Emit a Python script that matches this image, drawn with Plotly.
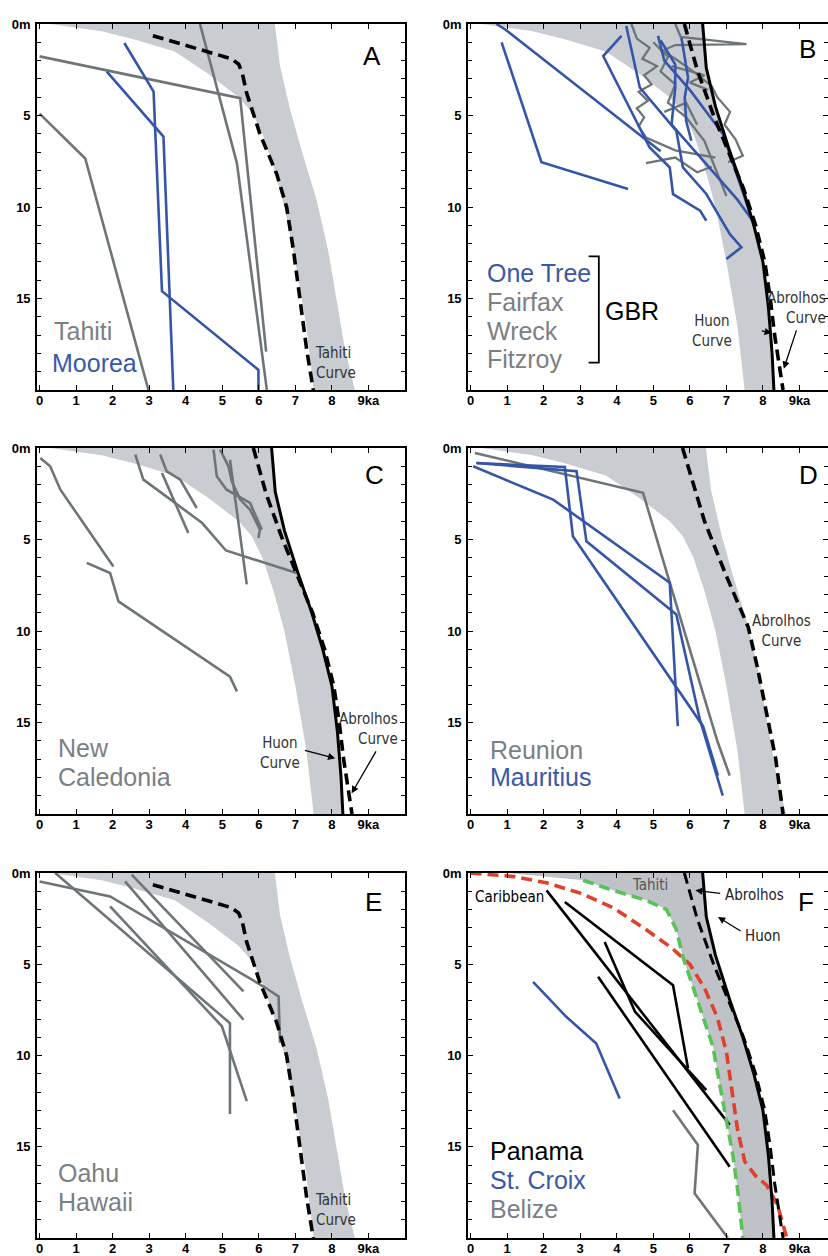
import plotly.graph_objects as go

# ---------------- shared reference curves (x = age ka, y = depth m) ----------------
BAND_LEFT_X = [0.3, 1.7, 2.6, 3.7, 4.6, 5.45, 5.8, 6.1, 6.4, 6.7, 7.0, 7.3, 7.5]
BAND_LEFT_Y = [0.0, 0.4, 0.85, 1.5, 2.7, 4.0, 4.8, 6.0, 7.8, 10.0, 13.0, 16.5, 20.0]
BAND_RIGHT_WIDE_X = [6.44, 6.58, 6.86, 7.17, 7.58, 7.9, 8.13, 8.36, 8.63]
BAND_RIGHT_WIDE_Y = [0.0, 2.3, 4.7, 6.9, 9.6, 12.4, 15.1, 17.8, 20.0]

TAHITI_CURVE_X = [3.1, 4.4, 5.25, 5.45, 5.55, 5.67, 6.03, 6.49, 6.76, 6.95, 7.13, 7.31, 7.49]
TAHITI_CURVE_Y = [0.64, 1.4, 1.9, 2.2, 2.7, 3.8, 6.0, 8.2, 10.0, 12.4, 15.1, 17.8, 20.0]

HUON_X = [6.35, 6.45, 6.7, 7.1, 7.45, 7.75, 8.0, 8.15, 8.25, 8.3]
HUON_Y = [0.0, 2.4, 4.5, 7.0, 9.0, 11.0, 13.0, 15.5, 18.0, 20.0]

ABROLHOS_X = [5.85, 6.2, 6.65, 7.05, 7.47, 7.8, 8.05, 8.2, 8.32, 8.55]
ABROLHOS_Y = [0.0, 2.5, 5.0, 7.0, 9.0, 11.0, 13.0, 15.0, 17.0, 20.0]

ABROLHOS_D_X = [5.8, 6.4, 7.0, 7.6, 7.85, 8.1, 8.35, 8.55]
ABROLHOS_D_Y = [0.0, 4.0, 7.0, 9.8, 12.0, 14.5, 17.0, 20.0]

CARIBBEAN_X = [0.0, 1.2, 2.1, 3.0, 3.9, 4.8, 5.5, 6.0, 6.4, 6.75, 7.0, 7.15, 7.3, 7.5, 7.8, 8.1, 8.4, 8.65]
CARIBBEAN_Y = [0.0, 0.2, 0.55, 1.1, 1.9, 3.1, 4.1, 5.0, 6.3, 7.9, 9.8, 12.0, 14.0, 15.8, 16.6, 17.1, 18.2, 20.0]

TAHITI_GREEN_X = [3.08, 3.9, 4.81, 5.36, 5.63, 5.81, 6.08, 6.36, 6.63, 6.81, 7.0, 7.18, 7.31, 7.45]
TAHITI_GREEN_Y = [0.4, 0.95, 1.5, 2.0, 3.1, 4.6, 6.2, 7.9, 9.5, 11.5, 13.5, 15.5, 17.4, 20.0]

# ---------------- site data per panel ----------------
A_TAHITI = [
    ([0.0, 1.25, 2.98], [4.9, 7.35, 20.0]),
    ([0.0, 5.49, 6.2], [1.77, 4.05, 17.9]),
    ([4.39, 5.4, 6.22], [0.0, 7.6, 20.0]),
]
A_MOOREA = [
    ([2.32, 3.12, 3.35, 5.99, 5.99], [1.04, 3.69, 14.6, 18.9, 20.0]),
    ([1.84, 3.39, 3.66], [2.6, 6.15, 20.0]),
]

B_ONETREE = [
    ([0.71, 0.95, 5.2], [0.0, 0.3, 6.95]),
    ([0.85, 1.94, 4.31], [1.0, 7.55, 9.02]),
    ([4.13, 3.63, 4.9, 5.45, 5.54, 6.28, 6.45], [0.65, 1.75, 6.75, 7.84, 9.3, 10.2, 10.75]),
    ([4.26, 4.63, 5.63, 5.81, 6.45, 7.09, 7.41, 7.0], [0.11, 3.47, 5.84, 7.84, 9.29, 11.47, 12.2, 12.84]),
    ([5.13, 5.3, 6.0, 6.9, 7.72], [0.65, 2.0, 3.6, 6.0, 10.75]),
    ([5.2, 5.6, 5.6, 5.5, 6.6, 7.3, 7.72], [0.9, 2.2, 3.5, 5.5, 8.0, 9.6, 10.75]),
    ([5.77, 5.95, 5.86, 5.9, 6.04], [0.75, 2.93, 4.02, 5.3, 6.38]),
]
B_GREY = [
    ([5.6, 5.75, 7.55, 5.6, 5.2], [0.0, 0.7, 1.1, 1.15, 1.5]),
    ([4.4, 4.55, 4.9, 4.7, 5.1, 4.75, 4.95, 4.6, 4.85, 4.55, 4.75, 4.6, 4.8, 5.6, 6.7],
     [0.0, 0.8, 1.3, 1.9, 2.3, 2.8, 3.3, 3.7, 4.2, 4.6, 5.1, 5.6, 6.2, 6.9, 7.3]),
    ([5.2, 5.6, 6.1, 6.6, 6.75, 7.1, 6.95, 7.25, 7.45, 7.05],
     [1.4, 1.9, 2.6, 3.4, 4.0, 4.8, 5.5, 6.3, 7.2, 7.55]),
    ([5.0, 5.4, 5.2, 5.6, 5.4, 5.9, 6.4, 7.0], [1.0, 1.8, 2.6, 3.3, 4.3, 5.1, 6.4, 9.4]),
    ([5.5, 6.4, 6.0, 6.5], [2.3, 2.8, 3.2, 3.6]),
    ([5.3, 5.9, 6.2], [4.8, 4.3, 5.5]),
    ([4.8, 5.6, 6.2, 6.6], [7.6, 7.3, 8.1, 7.8]),
]

C_NEWCAL = [
    ([0.02, 0.29, 0.57, 2.02], [0.55, 1.0, 2.28, 6.47]),
    ([1.29, 1.93, 2.16, 5.21, 5.4], [6.28, 6.83, 8.38, 12.5, 13.3]),
    ([2.62, 2.84, 3.3, 4.45, 5.1, 7.04], [0.36, 1.73, 2.4, 4.1, 5.6, 6.83]),
    ([3.3, 3.48, 3.85, 4.3], [0.36, 1.28, 1.73, 3.28]),
    ([3.35, 4.07], [1.37, 4.64]),
    ([4.76, 4.85, 5.12, 5.76, 6.08], [0.09, 1.55, 2.28, 3.0, 4.46]),
    ([4.94, 5.17, 5.26, 5.49, 5.76, 6.03, 5.99], [0.09, 1.0, 1.82, 2.82, 3.37, 4.46, 4.92]),
    ([5.21, 5.67], [0.64, 7.45]),
]

D_REUNION = [
    ([0.12, 4.72, 5.45, 6.75, 7.09], [0.27, 2.45, 7.36, 16.0, 17.9]),
]
D_MAURITIUS = [
    ([0.16, 2.58, 2.8, 5.54, 6.36, 6.77], [0.82, 1.04, 4.82, 12.8, 15.2, 17.9]),
    ([0.16, 2.9, 3.17, 5.63, 6.27, 6.9], [0.82, 1.27, 5.1, 9.1, 14.8, 19.0]),
    ([0.07, 2.26, 5.45, 5.67], [1.0, 2.82, 7.36, 15.2]),
]

E_OAHU = [
    ([0.0, 1.93, 6.13, 6.54, 6.58], [0.46, 1.28, 6.22, 6.76, 9.3]),
    ([0.43, 5.12, 5.21, 5.21], [0.0, 8.04, 8.23, 13.2]),
    ([1.93, 4.99, 5.67], [1.83, 8.4, 12.5]),
    ([2.34, 5.58], [0.46, 8.04]),
    ([2.52, 5.58], [0.09, 6.49]),
]

F_PANAMA = [
    ([2.08, 7.09], [0.95, 13.8]),
    ([2.58, 5.54, 5.95], [1.59, 6.15, 10.7]),
    ([3.67, 4.5, 6.45], [3.78, 7.6, 11.9]),
    ([3.49, 7.09], [5.69, 16.1]),
]
F_STCROIX = [
    ([1.71, 2.62, 3.44, 4.08], [5.97, 7.88, 9.34, 12.35]),
]
F_BELIZE = [
    ([5.54, 6.22, 6.13, 7.04], [13.0, 14.9, 17.55, 20.0]),
]

X_TICKS = [0, 1, 2, 3, 4, 5, 6, 7, 8, 9]
X_TICKTEXT = ["0", "1", "2", "3", "4", "5", "6", "7", "8", "9ka"]
Y_TICKS = [0, 5, 10, 15]
Y_TICKTEXT = ["0m", "5", "10", "15"]

# ---------------- styling ----------------
W, H = 828, 1256
BLUE = "#3556a8"
GREY = "#6e7579"
BAND = "#c9cdd1"
LABEL_GREY = "#7b8084"
LABEL_BLUE = "#3a58a8"
BIG = "Liberation Sans, Arial, sans-serif"
NARROW = "Liberation Sans Narrow, Arial Narrow, DejaVu Sans Condensed, Liberation Sans, sans-serif"

# panel pixel boxes: (left, right, top, bottom), x range end
PANELS = {
    "A": (37, 405, 24, 390, 10.0),
    "B": (468, 828, 24, 390, 9.78),
    "C": (37, 405, 448, 814, 10.0),
    "D": (468, 828, 448, 814, 9.78),
    "E": (37, 405, 873, 1238, 10.0),
    "F": (468, 828, 873, 1238, 9.78),
}
ORDER = ["A", "B", "C", "D", "E", "F"]

fig = go.Figure()
layout = dict(width=W, height=H, margin=dict(l=0, r=0, t=0, b=0, pad=0),
              paper_bgcolor="white", plot_bgcolor="white", showlegend=False)

for i, key in enumerate(ORDER, start=1):
    l, r, t, b, xmax = PANELS[key]
    sfx = "" if i == 1 else str(i)
    layout["xaxis" + sfx] = dict(
        domain=[l / W, r / W], range=[-0.07, xmax], anchor="y" + sfx,
        tickmode="array", tickvals=X_TICKS, ticktext=X_TICKTEXT,
        showline=True, linecolor="black", linewidth=1.6, mirror="allticks",
        ticks="inside", ticklen=5, tickwidth=1.2, tickcolor="black",
        showgrid=False, zeroline=False, fixedrange=True, ticklabelstandoff=-2,
        automargin=False,
        tickfont=dict(family=BIG, size=13, color="black", weight="bold"),
    )
    layout["yaxis" + sfx] = dict(
        domain=[1 - b / H, 1 - t / H], range=[20, 0], anchor="x" + sfx,
        tickmode="array", tickvals=Y_TICKS, ticktext=Y_TICKTEXT,
        showline=True, linecolor="black", linewidth=1.6, mirror="allticks",
        ticks="inside", ticklen=5, tickwidth=1.2, tickcolor="black",
        minor=dict(dtick=1, tick0=0, ticks="inside", ticklen=4, tickwidth=1, tickcolor="black"),
        showgrid=False, zeroline=False, fixedrange=True, ticklabelstandoff=2,
        automargin=False,
        tickfont=dict(family=BIG, size=13, color="black", weight="bold"),
    )


def ax(i):
    return ("x" if i == 1 else "x%d" % i), ("y" if i == 1 else "y%d" % i)


def add_line(i, xs, ys, color, width=2.6, dash=None):
    xa, ya = ax(i)
    fig.add_trace(go.Scatter(x=xs, y=ys, mode="lines", xaxis=xa, yaxis=ya,
                             line=dict(color=color, width=width, dash=dash),
                             hoverinfo="skip", showlegend=False))


def add_band(i, lx, ly, rx, ry, color=BAND):
    xa, ya = ax(i)
    fig.add_trace(go.Scatter(x=list(lx) + list(rx)[::-1], y=list(ly) + list(ry)[::-1],
                             mode="lines", fill="toself", fillcolor=color,
                             line=dict(width=0, color=color), xaxis=xa, yaxis=ya,
                             hoverinfo="skip", showlegend=False))


DASH = "11px,6px"

# Panel A
add_band(1, BAND_LEFT_X, BAND_LEFT_Y, BAND_RIGHT_WIDE_X, BAND_RIGHT_WIDE_Y)
for xs, ys in A_TAHITI:
    add_line(1, xs, ys, GREY)
for xs, ys in A_MOOREA:
    add_line(1, xs, ys, BLUE)
add_line(1, TAHITI_CURVE_X, TAHITI_CURVE_Y, "black", 3.6, DASH)

# Panel B
add_band(2, BAND_LEFT_X, BAND_LEFT_Y, HUON_X, HUON_Y)
for xs, ys in B_GREY:
    add_line(2, xs, ys, GREY, 2.3)
for xs, ys in B_ONETREE:
    add_line(2, xs, ys, BLUE, 2.6)
add_line(2, ABROLHOS_X, ABROLHOS_Y, "black", 3.6, DASH)
add_line(2, HUON_X, HUON_Y, "black", 3.0)

# Panel C
add_band(3, BAND_LEFT_X, BAND_LEFT_Y, HUON_X, HUON_Y)
for xs, ys in C_NEWCAL:
    add_line(3, xs, ys, GREY)
add_line(3, ABROLHOS_X, ABROLHOS_Y, "black", 3.6, DASH)
add_line(3, HUON_X, HUON_Y, "black", 3.0)

# Panel D
add_band(4, BAND_LEFT_X, BAND_LEFT_Y, BAND_RIGHT_WIDE_X, BAND_RIGHT_WIDE_Y)
for xs, ys in D_REUNION:
    add_line(4, xs, ys, GREY)
for xs, ys in D_MAURITIUS:
    add_line(4, xs, ys, BLUE)
add_line(4, ABROLHOS_D_X, ABROLHOS_D_Y, "black", 3.6, DASH)

# Panel E
add_band(5, BAND_LEFT_X, BAND_LEFT_Y, BAND_RIGHT_WIDE_X, BAND_RIGHT_WIDE_Y)
for xs, ys in E_OAHU:
    add_line(5, xs, ys, GREY)
add_line(5, TAHITI_CURVE_X, TAHITI_CURVE_Y, "black", 3.6, DASH)

# Panel F
add_band(6, [1.0] + TAHITI_GREEN_X, [0.0] + TAHITI_GREEN_Y, HUON_X, HUON_Y, "#bfc3c8")
for xs, ys in F_PANAMA:
    add_line(6, xs, ys, "black", 2.6)
for xs, ys in F_STCROIX:
    add_line(6, xs, ys, BLUE)
for xs, ys in F_BELIZE:
    add_line(6, xs, ys, GREY)
add_line(6, CARIBBEAN_X, CARIBBEAN_Y, "#e0402c", 3.6, DASH)
add_line(6, TAHITI_GREEN_X, TAHITI_GREEN_Y, "#5ac256", 3.6, DASH)
add_line(6, ABROLHOS_X, ABROLHOS_Y, "black", 3.0, DASH)
add_line(6, HUON_X, HUON_Y, "black", 3.0)

ann = []


def text(i, x, y, s, color, size=25, family=BIG, xanchor="left", align="left"):
    xa, ya = ax(i)
    ann.append(dict(x=x, y=y, xref=xa, yref=ya, text=s, showarrow=False,
                    xanchor=xanchor, yanchor="middle", align=align, borderpad=0,
                    font=dict(family=family, size=size, color=color)))


def arrow(i, hx, hy, tx, ty):
    xa, ya = ax(i)
    ann.append(dict(x=hx, y=hy, ax=tx, ay=ty, xref=xa, yref=ya, axref=xa, ayref=ya,
                    text="", showarrow=True, arrowhead=2, arrowsize=1.1,
                    arrowwidth=1.3, arrowcolor="black", standoff=0))


# Panel letters
for i, (lx, ly, s) in enumerate([(9.1, 1.75, "A"), (9.22, 1.34, "B"), (9.16, 1.48, "C"),
                                 (9.25, 1.48, "D"), (9.13, 1.57, "E"), (9.18, 1.6, "F")], start=1):
    text(i, lx, ly, s, "black", size=26, xanchor="center", align="center")

# A
text(1, 0.37, 16.8, "Tahiti", LABEL_GREY)
text(1, 0.3, 18.5, "Moorea", LABEL_BLUE)
text(1, 7.52, 18.5, "Tahiti<br>Curve", "#333", size=15, family=NARROW)

# B
text(2, 0.42, 13.6, "One Tree", LABEL_BLUE)
text(2, 0.42, 15.2, "Fairfax", LABEL_GREY)
text(2, 0.42, 16.75, "Wreck", LABEL_GREY)
text(2, 0.42, 18.3, "Fitzroy", LABEL_GREY)
text(2, 3.64, 15.7, "GBR", "black", size=25)
xa2, ya2 = ax(2)
fig.add_shape(type="path", path="M 3.23 12.7 L 3.51 12.7 L 3.51 18.5 L 3.23 18.5",
              xref=xa2, yref=ya2, line=dict(color="black", width=1.8))
text(2, 7.18, 16.75, "Huon<br>Curve", "#333", size=15, family=NARROW, xanchor="right", align="center")
arrow(2, 8.24, 16.9, 7.93, 16.75)
text(2, 9.76, 15.5, "Abrolhos<br>Curve", "#333", size=15, family=NARROW, xanchor="right", align="right")
arrow(2, 8.57, 18.84, 8.93, 16.66)

# C
text(3, 0.48, 16.4, "New", LABEL_GREY)
text(3, 0.48, 18.0, "Caledonia", LABEL_GREY)
text(3, 7.15, 16.65, "Huon<br>Curve", "#333", size=15, family=NARROW, xanchor="right", align="center")
arrow(3, 8.09, 16.96, 7.22, 16.5)
text(3, 9.83, 15.35, "Abrolhos<br>Curve", "#333", size=15, family=NARROW, xanchor="right", align="right")
arrow(3, 8.54, 18.87, 9.23, 16.5)

# D
text(4, 0.5, 16.5, "Reunion", LABEL_GREY)
text(4, 0.5, 18.0, "Mauritius", LABEL_BLUE)
text(4, 8.5, 10.0, "Abrolhos<br>Curve", "#333", size=15, family=NARROW, xanchor="center", align="center")

# E
text(5, 0.48, 16.45, "Oahu", LABEL_GREY)
text(5, 0.48, 18.0, "Hawaii", LABEL_GREY)
text(5, 7.52, 18.45, "Tahiti<br>Curve", "#333", size=15, family=NARROW)

# F
text(6, 0.5, 15.25, "Panama", "black")
text(6, 0.5, 16.8, "St. Croix", LABEL_BLUE)
text(6, 0.5, 18.4, "Belize", LABEL_GREY)
text(6, 4.9, 0.66, "Tahiti", "#555", size=15, family=NARROW, xanchor="center", align="center")
text(6, 1.06, 1.3, "Caribbean", "black", size=15, family=NARROW, xanchor="center", align="center")
text(6, 6.93, 1.19, "Abrolhos", "#222", size=15, family=NARROW)
arrow(6, 6.15, 0.95, 6.87, 1.13)
text(6, 7.47, 3.44, "Huon", "#222", size=15, family=NARROW)
arrow(6, 6.77, 2.41, 7.43, 3.23)

layout["annotations"] = ann
fig.update_layout(**layout)
fig.write_html("out.html",
               config={"displayModeBar": False},
               post_script="document.body.style.margin='0';document.body.style.padding='0';"
                           "document.body.style.overflow='hidden';")
